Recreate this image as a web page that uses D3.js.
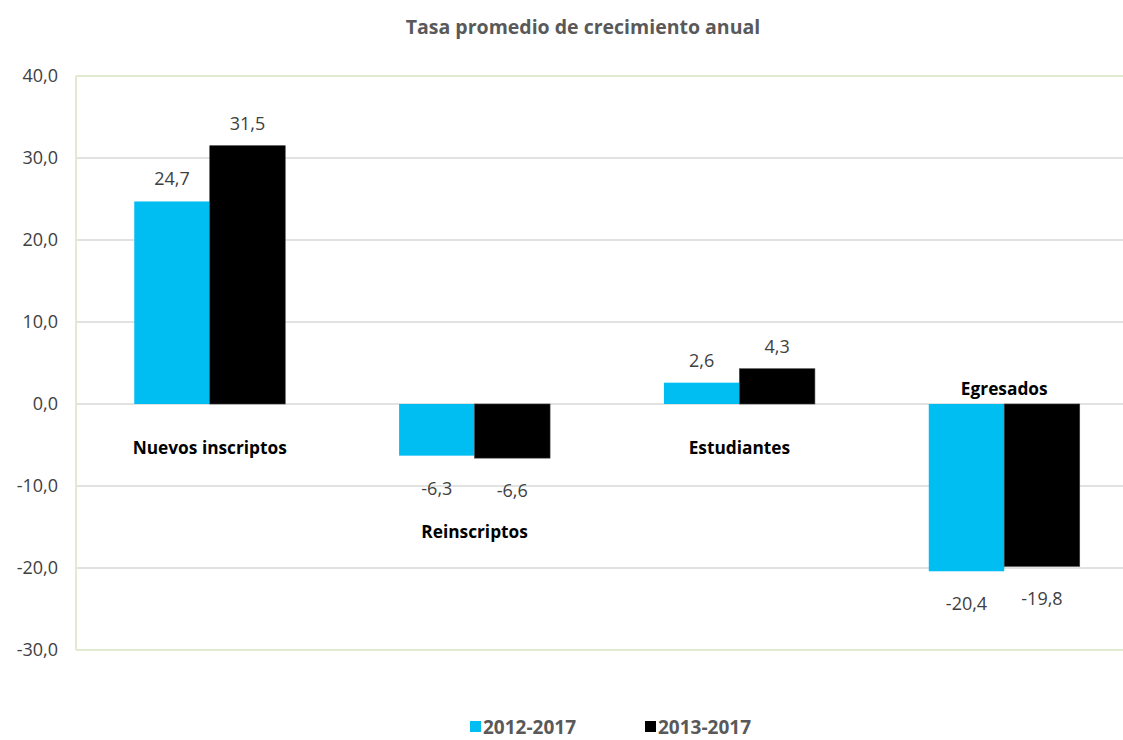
<!DOCTYPE html>
<html lang="es">
<head>
  <meta charset="UTF-8">
  <title>Tasa promedio de crecimiento anual</title>
  <style>
body { margin: 0; background: #fff; }
svg text { font-family: "Open Sans", sans-serif; }
  </style>
</head>
<body>
  <div id="chart"></div>
  <script src="https://d3js.org/d3.v7.min.js"></script>
  <script>
// data
const categories = ["Nuevos inscriptos", "Reinscriptos", "Estudiantes", "Egresados"];
const series = ["2012-2017", "2013-2017"];
const values2012 = [24.7, -6.3, 2.6, -20.4];
const values2013 = [31.5, -6.6, 4.3, -19.8];
const yTicks = [-30, -20, -10, 0, 10, 20, 30, 40];
const colors = ["#00bdf2", "#000000"];

const width = 1123, height = 740;
const plot = { left: 76, right: 1138, top: 76, bottom: 650 };

// comma decimals, plain hyphen for negatives
const fmt = v => d3.format(".1f")(v).replace(".", ",").replace("\u2212", "-");

const svg = d3.select("#chart").append("svg")
  .attr("width", width)
  .attr("height", height);

const y = d3.scaleLinear()
  .domain([-30, 40])
  .range([plot.bottom, plot.top]);

const x0 = d3.scaleBand()
  .domain(categories)
  .range([plot.left, plot.right])
  .paddingInner(0.43)
  .paddingOuter(0.22);

const x1 = d3.scaleBand()
  .domain(series)
  .range([0, x0.bandwidth()]);

const rows = categories.map((c, i) => ({
  category: c,
  vals: [values2012[i], values2013[i]]
}));

// title
svg.append("text")
  .attr("x", 583)
  .attr("y", 34)
  .attr("text-anchor", "middle")
  .attr("fill", "#595959")
  .style("font-size", "19.5px")
  .style("font-weight", "bold")
  .text("Tasa promedio de crecimiento anual");

// gridlines
svg.append("g")
  .selectAll("line")
  .data(yTicks.filter(t => t !== 40 && t !== -30))
  .join("line")
  .attr("x1", plot.left)
  .attr("x2", plot.right)
  .attr("y1", d => y(d))
  .attr("y2", d => y(d))
  .attr("stroke", "#d9d9d9")
  .attr("stroke-width", 1.5);

// plot frame (top, bottom, left)
const frame = svg.append("g")
  .attr("stroke", "#e2ebd0")
  .attr("stroke-width", 2);
frame.append("line")
  .attr("x1", plot.left).attr("x2", plot.right)
  .attr("y1", y(40)).attr("y2", y(40));
frame.append("line")
  .attr("x1", plot.left).attr("x2", plot.right)
  .attr("y1", y(-30)).attr("y2", y(-30));
frame.append("line")
  .attr("x1", plot.left).attr("x2", plot.left)
  .attr("y1", y(40)).attr("y2", y(-30));

// y axis
const yAxis = svg.append("g")
  .attr("transform", `translate(${plot.left},0)`)
  .call(d3.axisLeft(y).tickValues(yTicks).tickFormat(fmt).tickSize(0).tickPadding(18));
yAxis.select(".domain").remove();
yAxis.selectAll("text")
  .attr("fill", "#404040")
  .style("font-size", "18px")
  .style("font-family", "Open Sans, sans-serif");

// bars
const groups = svg.append("g")
  .selectAll("g")
  .data(rows)
  .join("g")
  .attr("transform", d => `translate(${x0(d.category)},0)`);

groups.selectAll("rect")
  .data(d => d.vals.map((v, j) => ({ v, s: series[j], j })))
  .join("rect")
  .attr("x", d => x1(d.s))
  .attr("width", x1.bandwidth())
  .attr("y", d => y(Math.max(0, d.v)))
  .attr("height", d => Math.abs(y(d.v) - y(0)))
  .attr("fill", d => colors[d.j])
  .attr("stroke", d => d.j === 1 ? "#3a3a3a" : "none")
  .attr("stroke-width", 0.6);

// value labels
groups.selectAll("text.val")
  .data(d => d.vals.map((v, j) => ({ v, s: series[j], j })))
  .join("text")
  .attr("class", "val")
  .attr("x", d => x1(d.s) + x1.bandwidth() / 2)
  .attr("y", d => d.v >= 0 ? y(d.v) - 16 : y(d.v) + 39)
  .attr("text-anchor", "middle")
  .attr("fill", "#404040")
  .style("font-size", "18px")
  .text(d => fmt(d.v));

// category labels, placed as in the source chart
function catY(d) {
  const lo = Math.min(...d.vals);
  if (lo >= 0) return y(0) + 50;          // below the zero line
  if (lo < -15) return y(0) - 9;          // above the zero line
  return y(lo) + 80;                      // below the value labels
}
groups.append("text")
  .attr("x", x0.bandwidth() / 2)
  .attr("y", catY)
  .attr("text-anchor", "middle")
  .attr("fill", "#000")
  .style("font-size", "17.3px")
  .style("font-weight", "bold")
  .text(d => d.category);

// legend
const legend = svg.append("g");
const legendX = [470, 645];
series.forEach((s, i) => {
  const g = legend.append("g").attr("transform", `translate(${legendX[i]},721)`);
  g.append("rect")
    .attr("width", 11).attr("height", 11)
    .attr("fill", colors[i]);
  g.append("text")
    .attr("x", 13)
    .attr("y", 13)
    .attr("fill", "#595959")
    .style("font-size", "19px")
    .style("font-weight", "bold")
    .text(s);
});
  </script>
</body>
</html>
